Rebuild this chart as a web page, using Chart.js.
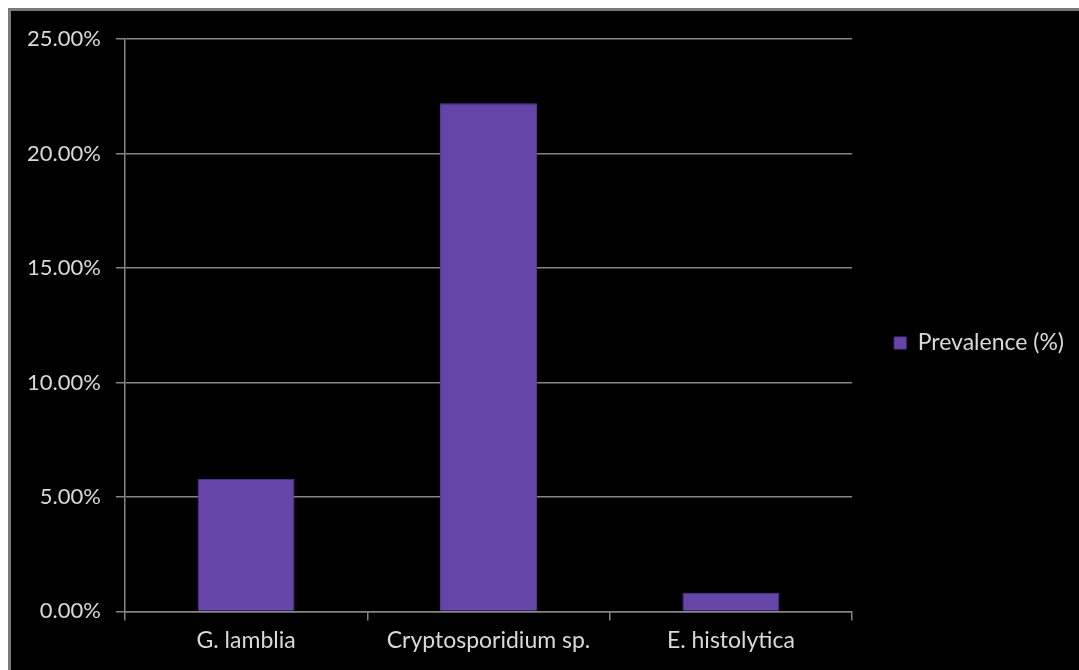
<!DOCTYPE html>
<html>
<head>
<meta charset="utf-8">
<script src="https://cdn.jsdelivr.net/npm/chart.js@4"></script>
<style>
    html, body { margin: 0; padding: 0; background: #fff; overflow: hidden; }
    .frame {
        position: absolute;
        left: 8px; top: 8px; right: 0; bottom: 0;
        border-top: 3px solid #7a7a7a;
        border-left: 3px solid #7a7a7a;
        background: #000;
    }
    #chart { display: block; }
</style>
</head>
<body>
<div class="frame">
    <canvas id="chart" width="1068" height="659"></canvas>
</div>
<script>
// Parasite prevalence per species
const species = ['G. lamblia', 'Cryptosporidium sp.', 'E. histolytica'];
const prevalence = [5.8, 22.2, 0.82];
const seriesName = 'Prevalence (%)';

const axisColor = '#858585';
const textColor = '#d9d9d9';
const labelFont = { family: 'Lato', size: 23 };
const valueFont = { family: 'Lato', size: 22 };

// Lift the legend a little above the vertical middle
const legendNudge = {
    id: 'legendNudge',
    afterLayout(chart) {
        chart.legend.top -= 6;
        chart.legend.bottom -= 6;
    }
};

const ctx = document.getElementById('chart').getContext('2d');
new Chart(ctx, {
    type: 'bar',
    data: {
        labels: species,
        datasets: [{
            label: seriesName,
            data: prevalence,
            backgroundColor: '#6545a7',
            borderColor: '#57399a',
            borderWidth: 1,
            barPercentage: 0.4,
            categoryPercentage: 1
        }]
    },
    options: {
        responsive: false,
        animation: false,
        layout: {
            padding: { left: 1, top: 27, right: 5, bottom: 10 }
        },
        plugins: {
            tooltip: { enabled: false },
            legend: {
                position: 'right',
                labels: {
                    color: textColor,
                    font: labelFont,
                    boxWidth: 12,
                    boxHeight: 12,
                    padding: 42
                }
            }
        },
        scales: {
            x: {
                grid: {
                    drawOnChartArea: false,
                    color: axisColor,
                    lineWidth: 1.5,
                    tickLength: 9
                },
                border: { color: axisColor, width: 1.5 },
                ticks: { color: textColor, font: labelFont, padding: 6 }
            },
            y: {
                min: 0,
                max: 25,
                grid: {
                    color: axisColor,
                    lineWidth: 1.5,
                    tickLength: 9
                },
                border: { color: axisColor, width: 1.5 },
                ticks: {
                    stepSize: 5,
                    color: textColor,
                    font: valueFont,
                    padding: 15,
                    callback: value => value.toFixed(2) + '%'
                }
            }
        }
    },
    plugins: [legendNudge]
});
</script>
</body>
</html>
